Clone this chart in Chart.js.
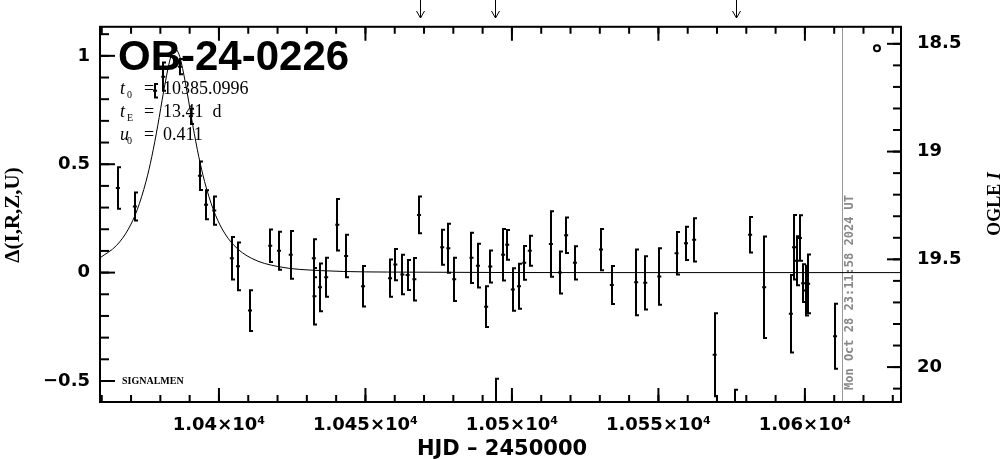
<!DOCTYPE html>
<html>
<head>
<meta charset="utf-8">
<script src="https://cdn.jsdelivr.net/npm/chart.js@4.4.0/dist/chart.umd.min.js"></script>
<style>
html, body { margin: 0; padding: 0; background: #fff; }
#wrap { width: 1004px; height: 459px; }
</style>
</head>
<body>
<div id="wrap"><canvas id="lc" width="1004" height="459"></canvas></div>
<script>
// photometry: HJD-2450000, delta mag, error
var hjd = [10365.5, 10371.3, 10378.2, 10381.0, 10386.7, 10390.4, 10393.5, 10395.6, 10398.4,
	10404.4, 10406.5, 10410.6, 10417.5, 10420.5, 10424.5, 10432.4, 10432.6, 10434.5, 10436.6,
	10440.4, 10443.4, 10449.2, 10458.4, 10460.2, 10462.6, 10464.4, 10466.7, 10468.3, 10476.2,
	10478.3, 10480.3, 10486.2, 10488.4, 10491.2, 10492.6, 10494.4, 10497.0, 10498.4, 10500.3,
	10502.4, 10504.2, 10506.1, 10513.3, 10516.4, 10518.5, 10521.5, 10530.4, 10534.1, 10542.4,
	10545.5, 10550.3, 10556.2, 10559.4, 10562.2, 10569.2, 10576.1, 10581.3, 10586.1, 10595.2,
	10596.3, 10597.3, 10598.3, 10599.4, 10600.3, 10601.1, 10610.3];
var dmag = [0.390, 0.305, 0.839, 0.904, 0.950, 0.721, 0.447, 0.313, 0.286,
	0.066, 0.029, -0.175, 0.124, 0.101, 0.082, 0.066, -0.109, -0.068, -0.022,
	0.221, 0.077, -0.063, -0.026, 0.037, -0.009, -0.011, -0.031, 0.266, 0.117,
	0.112, -0.031, 0.068, 0.032, -0.157, 0.028, -0.680, 0.082, 0.128, -0.078,
	-0.063, 0.045, 0.101, 0.132, 0.000, 0.172, 0.045, 0.106, -0.057, -0.045,
	-0.047, -0.018, 0.089, 0.135, 0.151, -0.379, -0.750, 0.175, -0.068, -0.190,
	0.117, 0.055, 0.160, -0.049, -0.083, -0.052, -0.294];
var derr = [0.096, 0.065, 0.031, 0.065, 0.035, 0.035, 0.066, 0.067, 0.065,
	0.098, 0.110, 0.094, 0.075, 0.088, 0.110, 0.088, 0.130, 0.110, 0.090,
	0.119, 0.098, 0.093, 0.086, 0.072, 0.091, 0.069, 0.098, 0.085, 0.081,
	0.113, 0.100, 0.116, 0.101, 0.094, 0.074, 0.190, 0.119, 0.069, 0.098,
	0.104, 0.078, 0.069, 0.151, 0.097, 0.082, 0.077, 0.095, 0.088, 0.152,
	0.123, 0.130, 0.098, 0.077, 0.100, 0.192, 0.210, 0.082, 0.234, 0.179,
	0.149, 0.113, 0.105, 0.087, 0.115, 0.136, 0.150];

// model curve
var modelT = [10359.4, 10365.1, 10369.1, 10372.1, 10375.1, 10377.1, 10379.1, 10381.1, 10383.1,
	10384.1, 10385.1, 10386.1, 10387.1, 10389.1, 10391.1, 10393.1, 10395.1, 10398.1, 10401.1,
	10405.1, 10411.1, 10420.1, 10435.1, 10465.1, 10535.1, 10632.8];
var modelD = [0.068, 0.126, 0.201, 0.290, 0.420, 0.536, 0.677, 0.834, 0.972,
	1.016, 1.031, 1.016, 0.972, 0.834, 0.677, 0.536, 0.420, 0.290, 0.201,
	0.126, 0.066, 0.028, 0.009, 0.002, 0.000, 0.000];

var ogleT = [10624.6];
var ogleMag = [18.52];

var xTicks = [10400, 10450, 10500, 10550, 10600];
var yTicks = [-0.5, 0, 0.5, 1];
var magTicks = [18.5, 19, 19.5, 20];
var arrowT = [10468.6, 10494.2, 10576.5];
var nowT = 10612.6;
var nowText = 'Mon Oct 28 23:11:58 2024 UT';

var pts = hjd.map(function(t, i) { return {x: t, y: dmag[i]}; });
var model = modelT.map(function(t, i) { return {x: t, y: modelD[i]}; });
var ogle = ogleT.map(function(t, i) { return {x: t, y: ogleMag[i]}; });

function tickLines(ctx, scale, from, to, step, vert, a, len) {
	for (var k = Math.ceil(from / step - 1e-6); k * step <= to + 1e-6; k++) {
		var v = k * step;
		var p = scale.getPixelForValue(v);
		ctx.beginPath();
		if (vert == 'x') {
			ctx.moveTo(p, a.bottom); ctx.lineTo(p, a.bottom - len);
			ctx.moveTo(p, a.top); ctx.lineTo(p, a.top + len);
		} else if (vert == 'l') {
			ctx.moveTo(a.left, p); ctx.lineTo(a.left + len, p);
		} else {
			ctx.moveTo(a.right, p); ctx.lineTo(a.right - len, p);
		}
		ctx.stroke();
	}
}

var decor = {
	id: 'decor',
	beforeDatasetsDraw: function(chart) {
		var ctx = chart.ctx, a = chart.chartArea, sx = chart.scales.x;
		var xd = Math.round(sx.getPixelForValue(nowT)) + 0.5;
		ctx.save();
		ctx.strokeStyle = '#999';
		ctx.lineWidth = 1;
		ctx.beginPath(); ctx.moveTo(xd, a.top); ctx.lineTo(xd, a.bottom); ctx.stroke();
		ctx.translate(xd + 7, 390);
		ctx.rotate(-Math.PI / 2);
		ctx.fillStyle = '#888';
		ctx.font = 'bold 12px "DejaVu Sans Mono"';
		ctx.textAlign = 'left';
		ctx.textBaseline = 'middle';
		ctx.fillText(nowText, 0, 0);
		ctx.restore();
	},
	afterDatasetsDraw: function(chart) {
		var ctx = chart.ctx, a = chart.chartArea;
		var sx = chart.scales.x, sy = chart.scales.y;
		ctx.save();
		ctx.beginPath(); ctx.rect(a.left, a.top, a.width, a.height); ctx.clip();
		ctx.strokeStyle = '#000';
		ctx.lineWidth = 2;
		for (var i = 0; i < hjd.length; i++) {
			var x = Math.round(sx.getPixelForValue(hjd[i]));
			var y1 = sy.getPixelForValue(dmag[i] + derr[i]);
			var y2 = sy.getPixelForValue(dmag[i] - derr[i]);
			ctx.beginPath();
			ctx.moveTo(x, y1); ctx.lineTo(x, y2);
			ctx.moveTo(x - 1, y1); ctx.lineTo(x + 3, y1);
			ctx.moveTo(x - 1, y2); ctx.lineTo(x + 3, y2);
			ctx.stroke();
		}
		ctx.restore();
	},
	afterDraw: function(chart) {
		var ctx = chart.ctx, a = chart.chartArea;
		var sx = chart.scales.x, sy = chart.scales.y, sm = chart.scales.y2;
		ctx.save();
		ctx.strokeStyle = '#000';
		ctx.fillStyle = '#000';
		ctx.lineWidth = 2;
		ctx.strokeRect(a.left, a.top, a.width, a.height);
		tickLines(ctx, sx, sx.min, sx.max, 10, 'x', a, 7);
		tickLines(ctx, sx, sx.min, sx.max, 50, 'x', a, 14);
		tickLines(ctx, sy, sy.min, sy.max, 0.1, 'l', a, 9);
		tickLines(ctx, sy, sy.min, sy.max, 0.5, 'l', a, 15);
		tickLines(ctx, sm, sm.min, sm.max, 0.1, 'r', a, 8);
		tickLines(ctx, sm, sm.min, sm.max, 0.5, 'r', a, 14);

		// arrows above the frame
		ctx.lineWidth = 1;
		arrowT.forEach(function(t) {
			var x = Math.round(sx.getPixelForValue(t)) + 0.5;
			ctx.beginPath();
			ctx.moveTo(x, 0); ctx.lineTo(x, 18);
			ctx.moveTo(x - 4, 11); ctx.lineTo(x, 18); ctx.lineTo(x + 4, 11);
			ctx.stroke();
		});

		// event name and fit parameters
		ctx.textAlign = 'left';
		ctx.textBaseline = 'alphabetic';
		ctx.font = 'bold 42px "Liberation Sans"';
		ctx.fillText('OB-24-0226', 118, 70);
		var rows = [['0', '10385.0996', 't', 94], ['E', '13.41  d', 't', 117], ['0', '0.411', 'u', 140]];
		rows.forEach(function(r) {
			ctx.font = 'italic 18px "Liberation Serif"';
			ctx.fillText(r[2], 120, r[3]);
			ctx.font = '10px "Liberation Serif"';
			ctx.fillText(r[0], 127, r[3] + 4);
			ctx.font = '18px "Liberation Serif"';
			ctx.fillText('=', 144, r[3]);
			ctx.fillText(r[1], 163, r[3]);
		});
		ctx.font = 'bold 10px "Liberation Serif"';
		ctx.fillText('SIGNALMEN', 122, 384);

		// axis titles
		ctx.textAlign = 'center';
		ctx.textBaseline = 'middle';
		ctx.font = 'bold 21px "DejaVu Sans"';
		ctx.fillText('HJD \u2013 2450000', 502, 450);

		ctx.save();
		ctx.translate(14, 215);
		ctx.rotate(-Math.PI / 2);
		ctx.font = 'bold 21px "Liberation Serif"';
		ctx.fillText('\u0394(I,R,Z,U)', 0, 0);
		ctx.restore();

		ctx.save();
		ctx.translate(995, 204);
		ctx.rotate(-Math.PI / 2);
		ctx.textAlign = 'left';
		ctx.font = 'bold 18px "Liberation Serif"';
		var w1 = ctx.measureText('OGLE ').width;
		ctx.font = 'bold italic 18px "Liberation Serif"';
		var w2 = ctx.measureText('I').width;
		ctx.font = 'bold 18px "Liberation Serif"';
		ctx.fillText('OGLE ', -(w1 + w2) / 2, 0);
		ctx.font = 'bold italic 18px "Liberation Serif"';
		ctx.fillText('I', -(w1 + w2) / 2 + w1, 0);
		ctx.restore();
		ctx.restore();
	}
};

var tickFont = {family: 'DejaVu Sans', weight: 'bold', size: 18};

new Chart(document.getElementById('lc'), {
	type: 'scatter',
	data: {
		datasets: [{
			type: 'line',
			data: model,
			borderColor: '#000',
			borderWidth: 1,
			pointRadius: 0,
			cubicInterpolationMode: 'monotone',
			fill: false
		}, {
			data: pts,
			pointStyle: 'line',
			pointRadius: 2,
			borderWidth: 2,
			borderColor: '#000',
			backgroundColor: '#000'
		}, {
			data: ogle,
			yAxisID: 'y2',
			pointStyle: 'circle',
			pointRadius: 3,
			borderWidth: 2,
			borderColor: '#000',
			backgroundColor: '#fff'
		}]
	},
	options: {
		responsive: false,
		devicePixelRatio: 1,
		animation: false,
		layout: {padding: {top: 26, left: 0, right: 0, bottom: 0}},
		plugins: {legend: {display: false}, tooltip: {enabled: false}},
		scales: {
			x: {
				type: 'linear', position: 'bottom', min: 10359.4, max: 10632.8,
				grid: {display: false, drawTicks: false}, border: {display: false},
				afterBuildTicks: function(s) { s.ticks = xTicks.map(function(v) { return {value: v}; }); },
				afterFit: function(s) { s.height = 57; },
				ticks: {
					font: tickFont, color: '#000', padding: 13, maxRotation: 0,
					callback: function(v) { return (v / 10000) + '\u00d710\u2074'; }
				}
			},
			y: {
				position: 'left', min: -0.597, max: 1.134,
				grid: {display: false, drawTicks: false}, border: {display: false},
				afterBuildTicks: function(s) { s.ticks = yTicks.map(function(v) { return {value: v}; }); },
				afterFit: function(s) { s.width = 100; },
				ticks: {
					font: tickFont, color: '#000', padding: 10,
					callback: function(v) { return v < 0 ? '\u2212' + Math.abs(v) : '' + v; }
				}
			},
			y2: {
				position: 'right', reverse: true, min: 18.421, max: 20.162,
				grid: {display: false, drawTicks: false}, border: {display: false},
				afterBuildTicks: function(s) { s.ticks = magTicks.map(function(v) { return {value: v}; }); },
				afterFit: function(s) { s.width = 103; },
				ticks: {font: tickFont, color: '#000', padding: 16, callback: function(v) { return '' + v; }}
			}
		}
	},
	plugins: [decor]
});
</script>
</body>
</html>
